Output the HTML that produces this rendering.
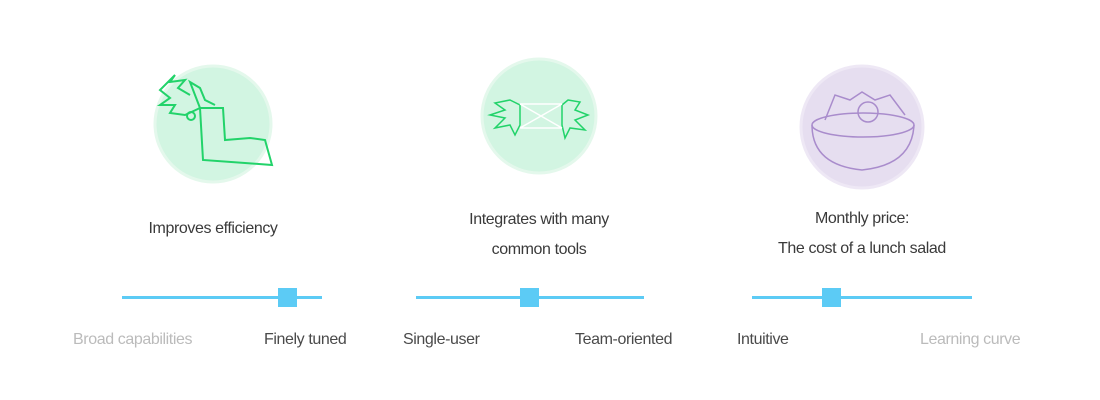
<!DOCTYPE html>
<html><head><style>
body{margin:0;width:1100px;height:400px;background:#fff;position:relative;overflow:hidden;font-family:"Liberation Sans",sans-serif;}
.t{position:absolute;font-size:16px;color:#3a3a3a;text-align:center;line-height:30px;letter-spacing:-0.4px}
.l{position:absolute;font-size:16px;top:331px;letter-spacing:-0.4px}
.g{color:#bbb}.d{color:#4a4a4a}
.tr{position:absolute;height:3px;background:#5ccbf5;top:296px}
.h{position:absolute;width:19px;height:19px;background:#5ccbf5;top:288px}
</style></head><body>
<svg width="1100" height="400" style="position:absolute;left:0;top:0">
<circle cx="213" cy="124" r="58" fill="#d2f5e2" stroke="#e4f8ec" stroke-width="3"/>
<circle cx="539" cy="116" r="57" fill="#d2f5e2" stroke="#e4f8ec" stroke-width="3"/>
<circle cx="862" cy="127" r="61" fill="#e6def0" stroke="#eee8f5" stroke-width="3"/>
<g fill="none" stroke="#22d36a" stroke-width="2">
<path d="M200 108 L203 160 L245 163 L272 165 L265 140 L250 138 L225 140 L223 108 Z"/>
<path d="M190 95 L178 88 L185 80 L170 82 L175 75 L160 90 L170 98 L160 105 L175 105 L170 113 L185 115 L200 108"/>
<path d="M200 108 L195 95 L190 82 L200 88 L205 100 L215 105"/>
<circle cx="191" cy="116" r="4"/>
</g>
<g fill="none" stroke="#22d36a" stroke-width="1.5">
<path d="M510 100 L495 103 L505 110 L490 115 L505 118 L495 128 L510 125 L515 135 L520 125 L520 105 Z"/>
<path d="M568 100 L580 102 L575 110 L588 115 L575 120 L585 130 L570 128 L565 138 L562 125 L562 105 Z"/>
</g>
<g fill="none" stroke="#fff" stroke-width="1.5"><path d="M520 104 L562 104 M520 128 L562 128 M520 104 L562 128 M520 128 L562 104"/></g>
<g fill="none" stroke="#a98ccc" stroke-width="1.5">
<path d="M812 125 Q812 165 862 170 Q912 165 914 125"/>
<ellipse cx="863" cy="125" rx="51" ry="12"/>
<path d="M825 120 L835 95 L850 100 L862 92 L875 100 L890 95 L905 115"/>
<circle cx="868" cy="112" r="10"/>
</g>
</svg>
<div class="t" style="left:113px;width:200px;top:214px">Improves efficiency</div>
<div class="t" style="left:439px;width:200px;top:205px">Integrates with many<br>common tools</div>
<div class="t" style="left:762px;width:200px;top:204px">Monthly price:<br>The cost of a lunch salad</div>
<div class="tr" style="left:122px;width:200px"></div><div class="h" style="left:278px"></div>
<div class="tr" style="left:416px;width:228px"></div><div class="h" style="left:520px"></div>
<div class="tr" style="left:752px;width:220px"></div><div class="h" style="left:822px"></div>
<div class="l g" style="left:73px">Broad capabilities</div>
<div class="l d" style="left:264px">Finely tuned</div>
<div class="l d" style="left:403px">Single-user</div>
<div class="l d" style="left:575px">Team-oriented</div>
<div class="l d" style="left:737px">Intuitive</div>
<div class="l g" style="left:920px">Learning curve</div>
</body></html>
